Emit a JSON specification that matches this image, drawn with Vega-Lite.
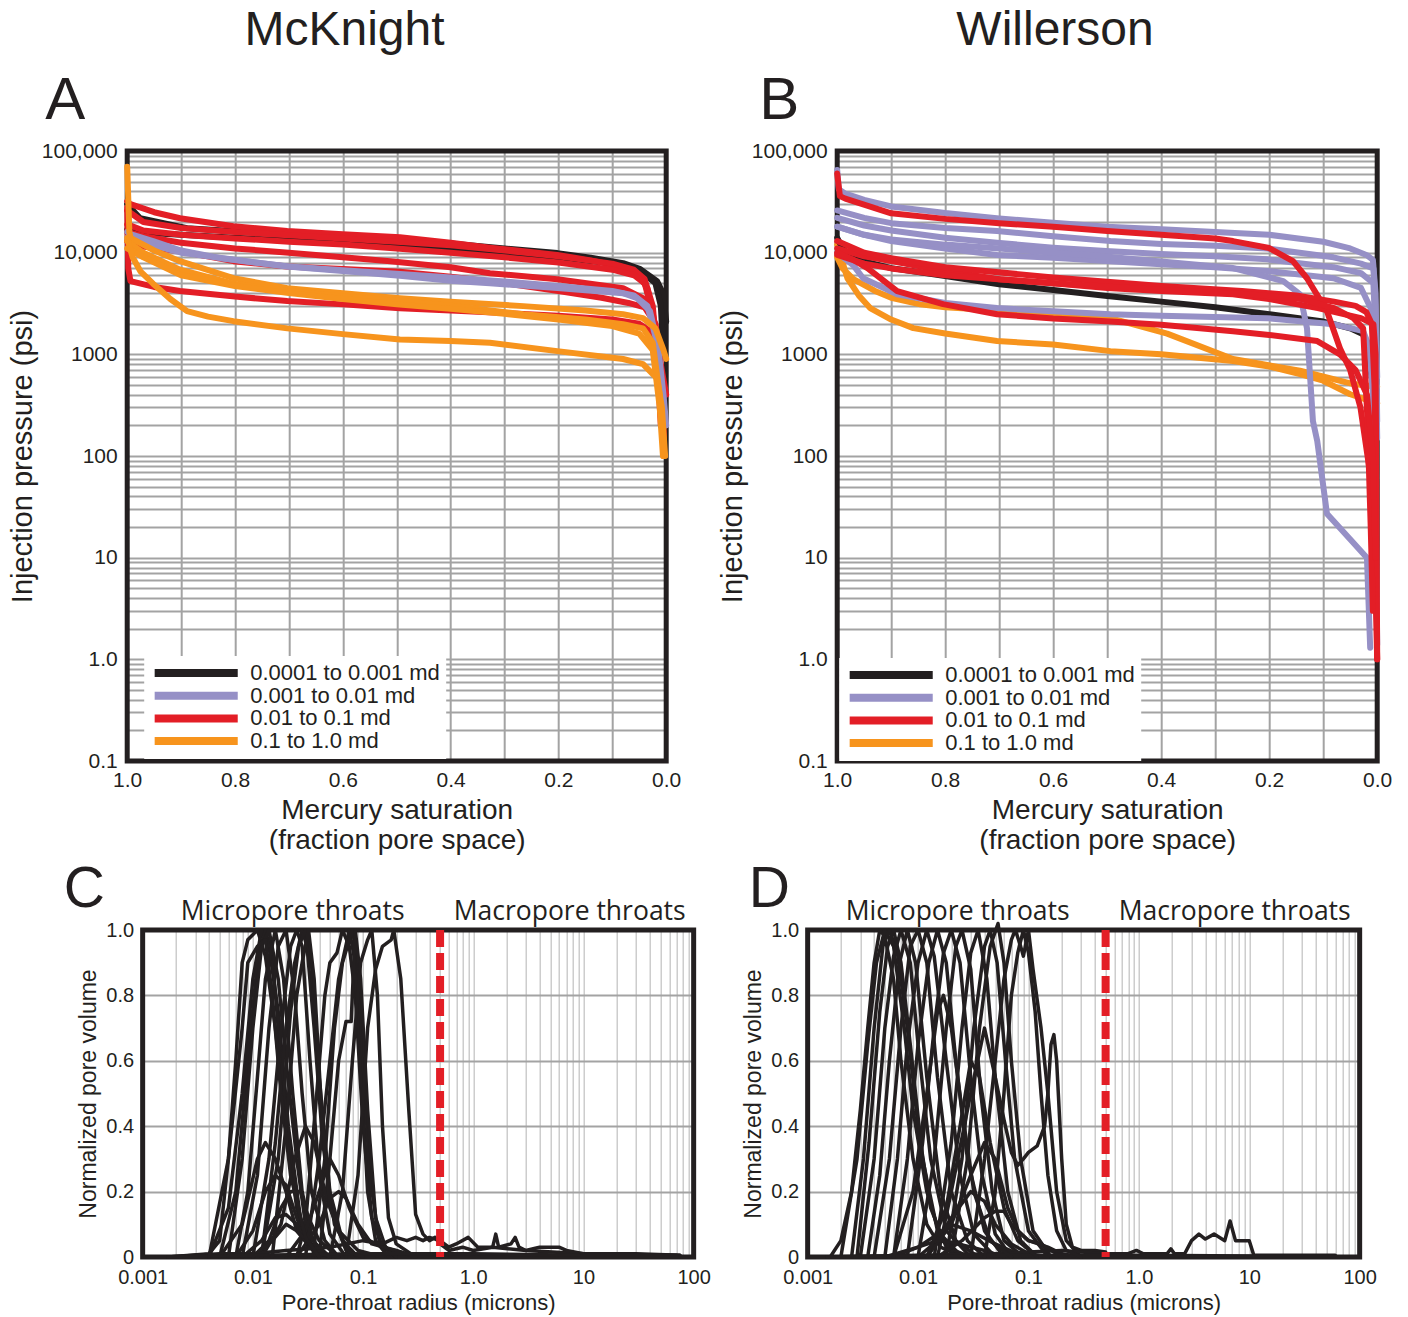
{
"$schema": "https://vega.github.io/schema/vega-lite/v6.json",
"background": "white",
"padding": {"left": 8, "top": 7, "right": 5, "bottom": 4},
"config": {
 "font": "Liberation Sans",
 "view": {"stroke": null},
 "axis": {"domain": false, "ticks": false, "tickSize": 0, "labelColor": "#231f20", "titleColor": "#231f20", "titleFontWeight": "normal", "labelFlush": false, "labelOverlap": false, "labelFont": "Liberation Sans", "titleFont": "Liberation Sans"},
 "title": {"color": "#231f20", "fontWeight": "normal", "font": "Liberation Sans"},
 "legend": {"labelFont": "Liberation Sans"}
},
"datasets": {
"A": [
{"c":"K1","k":"0.0001 to 0.001 md","s":1,"p":30000},{"c":"K1","k":"0.0001 to 0.001 md","s":0.976,"p":21800},{"c":"K1","k":"0.0001 to 0.001 md","s":0.889,"p":17400},{"c":"K1","k":"0.0001 to 0.001 md","s":0.8,"p":16200},{"c":"K1","k":"0.0001 to 0.001 md","s":0.703,"p":15200},{"c":"K1","k":"0.0001 to 0.001 md","s":0.6,"p":14300},{"c":"K1","k":"0.0001 to 0.001 md","s":0.494,"p":13400},{"c":"K1","k":"0.0001 to 0.001 md","s":0.4,"p":12300},{"c":"K1","k":"0.0001 to 0.001 md","s":0.3,"p":11000},{"c":"K1","k":"0.0001 to 0.001 md","s":0.202,"p":9900},{"c":"K1","k":"0.0001 to 0.001 md","s":0.14,"p":8900},{"c":"K1","k":"0.0001 to 0.001 md","s":0.08,"p":7890},{"c":"K1","k":"0.0001 to 0.001 md","s":0.048,"p":6890},{"c":"K1","k":"0.0001 to 0.001 md","s":0.017,"p":5250},{"c":"K1","k":"0.0001 to 0.001 md","s":0.006,"p":4000},{"c":"K1","k":"0.0001 to 0.001 md","s":0,"p":2100},
{"c":"K2","k":"0.0001 to 0.001 md","s":1,"p":17000},{"c":"K2","k":"0.0001 to 0.001 md","s":0.95,"p":15500},{"c":"K2","k":"0.0001 to 0.001 md","s":0.8,"p":14000},{"c":"K2","k":"0.0001 to 0.001 md","s":0.6,"p":12500},{"c":"K2","k":"0.0001 to 0.001 md","s":0.4,"p":11000},{"c":"K2","k":"0.0001 to 0.001 md","s":0.2,"p":9000},{"c":"K2","k":"0.0001 to 0.001 md","s":0.1,"p":7800},{"c":"K2","k":"0.0001 to 0.001 md","s":0.05,"p":6800},{"c":"K2","k":"0.0001 to 0.001 md","s":0.02,"p":5000},{"c":"K2","k":"0.0001 to 0.001 md","s":0.01,"p":3000},{"c":"K2","k":"0.0001 to 0.001 md","s":0.005,"p":1000},
{"c":"R1","k":"0.01 to 0.1 md","s":1,"p":32000},{"c":"R1","k":"0.01 to 0.1 md","s":0.994,"p":30000},{"c":"R1","k":"0.01 to 0.1 md","s":0.95,"p":25000},{"c":"R1","k":"0.01 to 0.1 md","s":0.902,"p":21800},{"c":"R1","k":"0.01 to 0.1 md","s":0.803,"p":18200},{"c":"R1","k":"0.01 to 0.1 md","s":0.703,"p":16300},{"c":"R1","k":"0.01 to 0.1 md","s":0.6,"p":15200},{"c":"R1","k":"0.01 to 0.1 md","s":0.494,"p":14200},{"c":"R1","k":"0.01 to 0.1 md","s":0.4,"p":12500},{"c":"R1","k":"0.01 to 0.1 md","s":0.327,"p":11200},{"c":"R1","k":"0.01 to 0.1 md","s":0.202,"p":9500},{"c":"R1","k":"0.01 to 0.1 md","s":0.14,"p":8400},{"c":"R1","k":"0.01 to 0.1 md","s":0.08,"p":7200},{"c":"R1","k":"0.01 to 0.1 md","s":0.054,"p":6300},{"c":"R1","k":"0.01 to 0.1 md","s":0.035,"p":4480},{"c":"R1","k":"0.01 to 0.1 md","s":0.017,"p":1580},{"c":"R1","k":"0.01 to 0.1 md","s":0.007,"p":347},{"c":"R1","k":"0.01 to 0.1 md","s":0.004,"p":150},
{"c":"R2","k":"0.01 to 0.1 md","s":1,"p":26000},{"c":"R2","k":"0.01 to 0.1 md","s":0.97,"p":20000},{"c":"R2","k":"0.01 to 0.1 md","s":0.9,"p":17500},{"c":"R2","k":"0.01 to 0.1 md","s":0.8,"p":16000},{"c":"R2","k":"0.01 to 0.1 md","s":0.7,"p":14800},{"c":"R2","k":"0.01 to 0.1 md","s":0.6,"p":13800},{"c":"R2","k":"0.01 to 0.1 md","s":0.5,"p":12800},{"c":"R2","k":"0.01 to 0.1 md","s":0.4,"p":11800},{"c":"R2","k":"0.01 to 0.1 md","s":0.3,"p":10500},{"c":"R2","k":"0.01 to 0.1 md","s":0.2,"p":9200},{"c":"R2","k":"0.01 to 0.1 md","s":0.1,"p":7800},{"c":"R2","k":"0.01 to 0.1 md","s":0.06,"p":6800},{"c":"R2","k":"0.01 to 0.1 md","s":0.04,"p":5500},{"c":"R2","k":"0.01 to 0.1 md","s":0.025,"p":3000},{"c":"R2","k":"0.01 to 0.1 md","s":0.015,"p":800},{"c":"R2","k":"0.01 to 0.1 md","s":0.009,"p":200},
{"c":"R3","k":"0.01 to 0.1 md","s":1,"p":19000},{"c":"R3","k":"0.01 to 0.1 md","s":0.97,"p":16500},{"c":"R3","k":"0.01 to 0.1 md","s":0.9,"p":15000},{"c":"R3","k":"0.01 to 0.1 md","s":0.8,"p":13800},{"c":"R3","k":"0.01 to 0.1 md","s":0.7,"p":12800},{"c":"R3","k":"0.01 to 0.1 md","s":0.6,"p":12000},{"c":"R3","k":"0.01 to 0.1 md","s":0.5,"p":11000},{"c":"R3","k":"0.01 to 0.1 md","s":0.4,"p":10000},{"c":"R3","k":"0.01 to 0.1 md","s":0.3,"p":9000},{"c":"R3","k":"0.01 to 0.1 md","s":0.2,"p":8000},{"c":"R3","k":"0.01 to 0.1 md","s":0.1,"p":6800},{"c":"R3","k":"0.01 to 0.1 md","s":0.06,"p":6000},{"c":"R3","k":"0.01 to 0.1 md","s":0.04,"p":5000},{"c":"R3","k":"0.01 to 0.1 md","s":0.025,"p":2500},{"c":"R3","k":"0.01 to 0.1 md","s":0.015,"p":600},{"c":"R3","k":"0.01 to 0.1 md","s":0.01,"p":200},
{"c":"R4","k":"0.01 to 0.1 md","s":1,"p":16000},{"c":"R4","k":"0.01 to 0.1 md","s":0.97,"p":14500},{"c":"R4","k":"0.01 to 0.1 md","s":0.9,"p":12500},{"c":"R4","k":"0.01 to 0.1 md","s":0.8,"p":11000},{"c":"R4","k":"0.01 to 0.1 md","s":0.7,"p":10000},{"c":"R4","k":"0.01 to 0.1 md","s":0.6,"p":9000},{"c":"R4","k":"0.01 to 0.1 md","s":0.512,"p":8250},{"c":"R4","k":"0.01 to 0.1 md","s":0.4,"p":7200},{"c":"R4","k":"0.01 to 0.1 md","s":0.327,"p":6280},{"c":"R4","k":"0.01 to 0.1 md","s":0.202,"p":5480},{"c":"R4","k":"0.01 to 0.1 md","s":0.08,"p":4480},{"c":"R4","k":"0.01 to 0.1 md","s":0.043,"p":3570},{"c":"R4","k":"0.01 to 0.1 md","s":0.03,"p":2800},{"c":"R4","k":"0.01 to 0.1 md","s":0.02,"p":1500},{"c":"R4","k":"0.01 to 0.1 md","s":0.012,"p":500},{"c":"R4","k":"0.01 to 0.1 md","s":0.008,"p":250},
{"c":"R5","k":"0.01 to 0.1 md","s":1,"p":13000},{"c":"R5","k":"0.01 to 0.1 md","s":0.97,"p":11500},{"c":"R5","k":"0.01 to 0.1 md","s":0.902,"p":10300},{"c":"R5","k":"0.01 to 0.1 md","s":0.803,"p":8250},{"c":"R5","k":"0.01 to 0.1 md","s":0.703,"p":7300},{"c":"R5","k":"0.01 to 0.1 md","s":0.6,"p":6900},{"c":"R5","k":"0.01 to 0.1 md","s":0.494,"p":6500},{"c":"R5","k":"0.01 to 0.1 md","s":0.4,"p":5800},{"c":"R5","k":"0.01 to 0.1 md","s":0.3,"p":5000},{"c":"R5","k":"0.01 to 0.1 md","s":0.2,"p":4200},{"c":"R5","k":"0.01 to 0.1 md","s":0.12,"p":3600},{"c":"R5","k":"0.01 to 0.1 md","s":0.07,"p":3200},{"c":"R5","k":"0.01 to 0.1 md","s":0.04,"p":2900},{"c":"R5","k":"0.01 to 0.1 md","s":0.02,"p":2000},{"c":"R5","k":"0.01 to 0.1 md","s":0.01,"p":800},{"c":"R5","k":"0.01 to 0.1 md","s":0,"p":400},
{"c":"R6","k":"0.01 to 0.1 md","s":1,"p":28000},{"c":"R6","k":"0.01 to 0.1 md","s":0.998,"p":7000},{"c":"R6","k":"0.01 to 0.1 md","s":0.994,"p":5250},{"c":"R6","k":"0.01 to 0.1 md","s":0.95,"p":4600},{"c":"R6","k":"0.01 to 0.1 md","s":0.902,"p":4200},{"c":"R6","k":"0.01 to 0.1 md","s":0.8,"p":3700},{"c":"R6","k":"0.01 to 0.1 md","s":0.703,"p":3340},{"c":"R6","k":"0.01 to 0.1 md","s":0.6,"p":3100},{"c":"R6","k":"0.01 to 0.1 md","s":0.494,"p":2840},{"c":"R6","k":"0.01 to 0.1 md","s":0.4,"p":2700},{"c":"R6","k":"0.01 to 0.1 md","s":0.3,"p":2550},{"c":"R6","k":"0.01 to 0.1 md","s":0.2,"p":2400},{"c":"R6","k":"0.01 to 0.1 md","s":0.1,"p":2200},{"c":"R6","k":"0.01 to 0.1 md","s":0.05,"p":2000},{"c":"R6","k":"0.01 to 0.1 md","s":0.03,"p":1700},{"c":"R6","k":"0.01 to 0.1 md","s":0.015,"p":800},{"c":"R6","k":"0.01 to 0.1 md","s":0.008,"p":250},{"c":"R6","k":"0.01 to 0.1 md","s":0.004,"p":120},
{"c":"L1","k":"0.001 to 0.01 md","s":1,"p":16000},{"c":"L1","k":"0.001 to 0.01 md","s":0.994,"p":15200},{"c":"L1","k":"0.001 to 0.01 md","s":0.952,"p":13000},{"c":"L1","k":"0.001 to 0.01 md","s":0.9,"p":10500},{"c":"L1","k":"0.001 to 0.01 md","s":0.827,"p":8830},{"c":"L1","k":"0.001 to 0.01 md","s":0.703,"p":7300},{"c":"L1","k":"0.001 to 0.01 md","s":0.6,"p":6600},{"c":"L1","k":"0.001 to 0.01 md","s":0.494,"p":5920},{"c":"L1","k":"0.001 to 0.01 md","s":0.4,"p":5300},{"c":"L1","k":"0.001 to 0.01 md","s":0.327,"p":5000},{"c":"L1","k":"0.001 to 0.01 md","s":0.202,"p":4500},{"c":"L1","k":"0.001 to 0.01 md","s":0.08,"p":3990},{"c":"L1","k":"0.001 to 0.01 md","s":0.054,"p":3570},{"c":"L1","k":"0.001 to 0.01 md","s":0.03,"p":2660},{"c":"L1","k":"0.001 to 0.01 md","s":0.015,"p":1200},{"c":"L1","k":"0.001 to 0.01 md","s":0.005,"p":400},{"c":"L1","k":"0.001 to 0.01 md","s":0,"p":200},
{"c":"L2","k":"0.001 to 0.01 md","s":1,"p":14000},{"c":"L2","k":"0.001 to 0.01 md","s":0.97,"p":12500},{"c":"L2","k":"0.001 to 0.01 md","s":0.9,"p":10000},{"c":"L2","k":"0.001 to 0.01 md","s":0.8,"p":8500},{"c":"L2","k":"0.001 to 0.01 md","s":0.7,"p":7300},{"c":"L2","k":"0.001 to 0.01 md","s":0.6,"p":6700},{"c":"L2","k":"0.001 to 0.01 md","s":0.5,"p":6200},{"c":"L2","k":"0.001 to 0.01 md","s":0.4,"p":5700},{"c":"L2","k":"0.001 to 0.01 md","s":0.3,"p":5200},{"c":"L2","k":"0.001 to 0.01 md","s":0.2,"p":4700},{"c":"L2","k":"0.001 to 0.01 md","s":0.1,"p":4200},{"c":"L2","k":"0.001 to 0.01 md","s":0.06,"p":3800},{"c":"L2","k":"0.001 to 0.01 md","s":0.035,"p":3000},{"c":"L2","k":"0.001 to 0.01 md","s":0.02,"p":1500},{"c":"L2","k":"0.001 to 0.01 md","s":0.01,"p":500},{"c":"L2","k":"0.001 to 0.01 md","s":0.003,"p":250},
{"c":"O1","k":"0.1 to 1.0 md","s":1,"p":70000},{"c":"O1","k":"0.1 to 1.0 md","s":0.996,"p":16000},{"c":"O1","k":"0.1 to 1.0 md","s":0.994,"p":14000},{"c":"O1","k":"0.1 to 1.0 md","s":0.95,"p":10500},{"c":"O1","k":"0.1 to 1.0 md","s":0.902,"p":8250},{"c":"O1","k":"0.1 to 1.0 md","s":0.803,"p":5620},{"c":"O1","k":"0.1 to 1.0 md","s":0.703,"p":4480},{"c":"O1","k":"0.1 to 1.0 md","s":0.6,"p":4000},{"c":"O1","k":"0.1 to 1.0 md","s":0.494,"p":3570},{"c":"O1","k":"0.1 to 1.0 md","s":0.4,"p":3300},{"c":"O1","k":"0.1 to 1.0 md","s":0.265,"p":2980},{"c":"O1","k":"0.1 to 1.0 md","s":0.15,"p":2700},{"c":"O1","k":"0.1 to 1.0 md","s":0.08,"p":2480},{"c":"O1","k":"0.1 to 1.0 md","s":0.043,"p":2270},{"c":"O1","k":"0.1 to 1.0 md","s":0.02,"p":1800},{"c":"O1","k":"0.1 to 1.0 md","s":0.005,"p":1100},{"c":"O1","k":"0.1 to 1.0 md","s":0,"p":900},
{"c":"O2","k":"0.1 to 1.0 md","s":1,"p":13000},{"c":"O2","k":"0.1 to 1.0 md","s":0.97,"p":10000},{"c":"O2","k":"0.1 to 1.0 md","s":0.902,"p":6800},{"c":"O2","k":"0.1 to 1.0 md","s":0.803,"p":4950},{"c":"O2","k":"0.1 to 1.0 md","s":0.703,"p":4200},{"c":"O2","k":"0.1 to 1.0 md","s":0.6,"p":3700},{"c":"O2","k":"0.1 to 1.0 md","s":0.494,"p":3340},{"c":"O2","k":"0.1 to 1.0 md","s":0.4,"p":3000},{"c":"O2","k":"0.1 to 1.0 md","s":0.265,"p":2480},{"c":"O2","k":"0.1 to 1.0 md","s":0.15,"p":2200},{"c":"O2","k":"0.1 to 1.0 md","s":0.08,"p":1980},{"c":"O2","k":"0.1 to 1.0 md","s":0.043,"p":1800},{"c":"O2","k":"0.1 to 1.0 md","s":0.025,"p":1300},{"c":"O2","k":"0.1 to 1.0 md","s":0.012,"p":400},{"c":"O2","k":"0.1 to 1.0 md","s":0.004,"p":120},
{"c":"O3","k":"0.1 to 1.0 md","s":1,"p":11000},{"c":"O3","k":"0.1 to 1.0 md","s":0.97,"p":9000},{"c":"O3","k":"0.1 to 1.0 md","s":0.9,"p":6000},{"c":"O3","k":"0.1 to 1.0 md","s":0.8,"p":4700},{"c":"O3","k":"0.1 to 1.0 md","s":0.7,"p":4000},{"c":"O3","k":"0.1 to 1.0 md","s":0.6,"p":3500},{"c":"O3","k":"0.1 to 1.0 md","s":0.5,"p":3100},{"c":"O3","k":"0.1 to 1.0 md","s":0.4,"p":2800},{"c":"O3","k":"0.1 to 1.0 md","s":0.3,"p":2500},{"c":"O3","k":"0.1 to 1.0 md","s":0.2,"p":2200},{"c":"O3","k":"0.1 to 1.0 md","s":0.1,"p":1900},{"c":"O3","k":"0.1 to 1.0 md","s":0.05,"p":1600},{"c":"O3","k":"0.1 to 1.0 md","s":0.025,"p":1100},{"c":"O3","k":"0.1 to 1.0 md","s":0.012,"p":300},{"c":"O3","k":"0.1 to 1.0 md","s":0.006,"p":100},
{"c":"O4","k":"0.1 to 1.0 md","s":1,"p":14000},{"c":"O4","k":"0.1 to 1.0 md","s":0.99,"p":9000},{"c":"O4","k":"0.1 to 1.0 md","s":0.975,"p":6500},{"c":"O4","k":"0.1 to 1.0 md","s":0.952,"p":4950},{"c":"O4","k":"0.1 to 1.0 md","s":0.92,"p":3500},{"c":"O4","k":"0.1 to 1.0 md","s":0.889,"p":2660},{"c":"O4","k":"0.1 to 1.0 md","s":0.85,"p":2350},{"c":"O4","k":"0.1 to 1.0 md","s":0.803,"p":2120},{"c":"O4","k":"0.1 to 1.0 md","s":0.703,"p":1800},{"c":"O4","k":"0.1 to 1.0 md","s":0.6,"p":1580},{"c":"O4","k":"0.1 to 1.0 md","s":0.494,"p":1400},{"c":"O4","k":"0.1 to 1.0 md","s":0.4,"p":1350},{"c":"O4","k":"0.1 to 1.0 md","s":0.327,"p":1300},{"c":"O4","k":"0.1 to 1.0 md","s":0.202,"p":1075},{"c":"O4","k":"0.1 to 1.0 md","s":0.08,"p":900},{"c":"O4","k":"0.1 to 1.0 md","s":0.043,"p":800},{"c":"O4","k":"0.1 to 1.0 md","s":0.017,"p":580},{"c":"O4","k":"0.1 to 1.0 md","s":0.008,"p":300},{"c":"O4","k":"0.1 to 1.0 md","s":0.002,"p":100}
],
"B": [
{"c":"OB1","k":"0.1 to 1.0 md","s":1,"p":12000},{"c":"OB1","k":"0.1 to 1.0 md","s":0.99,"p":8000},{"c":"OB1","k":"0.1 to 1.0 md","s":0.981,"p":5600},{"c":"OB1","k":"0.1 to 1.0 md","s":0.96,"p":3800},{"c":"OB1","k":"0.1 to 1.0 md","s":0.939,"p":2850},{"c":"OB1","k":"0.1 to 1.0 md","s":0.9,"p":2200},{"c":"OB1","k":"0.1 to 1.0 md","s":0.859,"p":1810},{"c":"OB1","k":"0.1 to 1.0 md","s":0.8,"p":1600},{"c":"OB1","k":"0.1 to 1.0 md","s":0.704,"p":1350},{"c":"OB1","k":"0.1 to 1.0 md","s":0.6,"p":1250},{"c":"OB1","k":"0.1 to 1.0 md","s":0.494,"p":1075},{"c":"OB1","k":"0.1 to 1.0 md","s":0.4,"p":1000},{"c":"OB1","k":"0.1 to 1.0 md","s":0.267,"p":860},{"c":"OB1","k":"0.1 to 1.0 md","s":0.2,"p":760},{"c":"OB1","k":"0.1 to 1.0 md","s":0.143,"p":640},{"c":"OB1","k":"0.1 to 1.0 md","s":0.1,"p":550},{"c":"OB1","k":"0.1 to 1.0 md","s":0.05,"p":405},{"c":"OB1","k":"0.1 to 1.0 md","s":0,"p":330},
{"c":"OB2","k":"0.1 to 1.0 md","s":1,"p":9000},{"c":"OB2","k":"0.1 to 1.0 md","s":0.99,"p":7000},{"c":"OB2","k":"0.1 to 1.0 md","s":0.97,"p":5500},{"c":"OB2","k":"0.1 to 1.0 md","s":0.93,"p":4200},{"c":"OB2","k":"0.1 to 1.0 md","s":0.9,"p":3600},{"c":"OB2","k":"0.1 to 1.0 md","s":0.846,"p":3100},{"c":"OB2","k":"0.1 to 1.0 md","s":0.8,"p":2900},{"c":"OB2","k":"0.1 to 1.0 md","s":0.7,"p":2700},{"c":"OB2","k":"0.1 to 1.0 md","s":0.6,"p":2500},{"c":"OB2","k":"0.1 to 1.0 md","s":0.494,"p":2270},{"c":"OB2","k":"0.1 to 1.0 md","s":0.389,"p":1600},{"c":"OB2","k":"0.1 to 1.0 md","s":0.267,"p":900},{"c":"OB2","k":"0.1 to 1.0 md","s":0.143,"p":690},{"c":"OB2","k":"0.1 to 1.0 md","s":0.044,"p":510},{"c":"OB2","k":"0.1 to 1.0 md","s":0,"p":480},
{"c":"KB1","k":"0.0001 to 0.001 md","s":1,"p":14000},{"c":"KB1","k":"0.0001 to 0.001 md","s":0.99,"p":11000},{"c":"KB1","k":"0.0001 to 0.001 md","s":0.97,"p":9000},{"c":"KB1","k":"0.0001 to 0.001 md","s":0.95,"p":8200},{"c":"KB1","k":"0.0001 to 0.001 md","s":0.9,"p":7050},{"c":"KB1","k":"0.0001 to 0.001 md","s":0.8,"p":5900},{"c":"KB1","k":"0.0001 to 0.001 md","s":0.7,"p":4900},{"c":"KB1","k":"0.0001 to 0.001 md","s":0.6,"p":4300},{"c":"KB1","k":"0.0001 to 0.001 md","s":0.5,"p":3750},{"c":"KB1","k":"0.0001 to 0.001 md","s":0.4,"p":3300},{"c":"KB1","k":"0.0001 to 0.001 md","s":0.3,"p":2900},{"c":"KB1","k":"0.0001 to 0.001 md","s":0.2,"p":2480},{"c":"KB1","k":"0.0001 to 0.001 md","s":0.1,"p":2100},{"c":"KB1","k":"0.0001 to 0.001 md","s":0.08,"p":1980},{"c":"KB1","k":"0.0001 to 0.001 md","s":0.05,"p":1800},{"c":"KB1","k":"0.0001 to 0.001 md","s":0.026,"p":1580},{"c":"KB1","k":"0.0001 to 0.001 md","s":0.017,"p":1000},{"c":"KB1","k":"0.0001 to 0.001 md","s":0.01,"p":600},{"c":"KB1","k":"0.0001 to 0.001 md","s":0.005,"p":400},
{"c":"LB1","k":"0.001 to 0.01 md","s":1,"p":65000},{"c":"LB1","k":"0.001 to 0.01 md","s":0.997,"p":42000},{"c":"LB1","k":"0.001 to 0.01 md","s":0.985,"p":38000},{"c":"LB1","k":"0.001 to 0.01 md","s":0.95,"p":33000},{"c":"LB1","k":"0.001 to 0.01 md","s":0.9,"p":28500},{"c":"LB1","k":"0.001 to 0.01 md","s":0.8,"p":24500},{"c":"LB1","k":"0.001 to 0.01 md","s":0.7,"p":21700},{"c":"LB1","k":"0.001 to 0.01 md","s":0.6,"p":19700},{"c":"LB1","k":"0.001 to 0.01 md","s":0.5,"p":18000},{"c":"LB1","k":"0.001 to 0.01 md","s":0.4,"p":17000},{"c":"LB1","k":"0.001 to 0.01 md","s":0.3,"p":16000},{"c":"LB1","k":"0.001 to 0.01 md","s":0.2,"p":15000},{"c":"LB1","k":"0.001 to 0.01 md","s":0.1,"p":12800},{"c":"LB1","k":"0.001 to 0.01 md","s":0.05,"p":11000},{"c":"LB1","k":"0.001 to 0.01 md","s":0.02,"p":9500},{"c":"LB1","k":"0.001 to 0.01 md","s":0.008,"p":8500},{"c":"LB1","k":"0.001 to 0.01 md","s":0.003,"p":4000},{"c":"LB1","k":"0.001 to 0.01 md","s":0,"p":220},
{"c":"LB2","k":"0.001 to 0.01 md","s":1,"p":26000},{"c":"LB2","k":"0.001 to 0.01 md","s":0.95,"p":22000},{"c":"LB2","k":"0.001 to 0.01 md","s":0.9,"p":19500},{"c":"LB2","k":"0.001 to 0.01 md","s":0.8,"p":17500},{"c":"LB2","k":"0.001 to 0.01 md","s":0.704,"p":16300},{"c":"LB2","k":"0.001 to 0.01 md","s":0.6,"p":14500},{"c":"LB2","k":"0.001 to 0.01 md","s":0.494,"p":13000},{"c":"LB2","k":"0.001 to 0.01 md","s":0.4,"p":12200},{"c":"LB2","k":"0.001 to 0.01 md","s":0.3,"p":11700},{"c":"LB2","k":"0.001 to 0.01 md","s":0.204,"p":11000},{"c":"LB2","k":"0.001 to 0.01 md","s":0.081,"p":9000},{"c":"LB2","k":"0.001 to 0.01 md","s":0.03,"p":7800},{"c":"LB2","k":"0.001 to 0.01 md","s":0.007,"p":7000},{"c":"LB2","k":"0.001 to 0.01 md","s":0.003,"p":3000},{"c":"LB2","k":"0.001 to 0.01 md","s":0,"p":600},
{"c":"LB3","k":"0.001 to 0.01 md","s":1,"p":22000},{"c":"LB3","k":"0.001 to 0.01 md","s":0.95,"p":18500},{"c":"LB3","k":"0.001 to 0.01 md","s":0.9,"p":16500},{"c":"LB3","k":"0.001 to 0.01 md","s":0.8,"p":14000},{"c":"LB3","k":"0.001 to 0.01 md","s":0.704,"p":12500},{"c":"LB3","k":"0.001 to 0.01 md","s":0.6,"p":11200},{"c":"LB3","k":"0.001 to 0.01 md","s":0.494,"p":10300},{"c":"LB3","k":"0.001 to 0.01 md","s":0.4,"p":9700},{"c":"LB3","k":"0.001 to 0.01 md","s":0.3,"p":9200},{"c":"LB3","k":"0.001 to 0.01 md","s":0.204,"p":8600},{"c":"LB3","k":"0.001 to 0.01 md","s":0.081,"p":7200},{"c":"LB3","k":"0.001 to 0.01 md","s":0.03,"p":6300},{"c":"LB3","k":"0.001 to 0.01 md","s":0.007,"p":5000},{"c":"LB3","k":"0.001 to 0.01 md","s":0.003,"p":1500},{"c":"LB3","k":"0.001 to 0.01 md","s":0,"p":150},
{"c":"LB6","k":"0.001 to 0.01 md","s":1,"p":18000},{"c":"LB6","k":"0.001 to 0.01 md","s":0.95,"p":15000},{"c":"LB6","k":"0.001 to 0.01 md","s":0.9,"p":13000},{"c":"LB6","k":"0.001 to 0.01 md","s":0.8,"p":11000},{"c":"LB6","k":"0.001 to 0.01 md","s":0.704,"p":9500},{"c":"LB6","k":"0.001 to 0.01 md","s":0.6,"p":8900},{"c":"LB6","k":"0.001 to 0.01 md","s":0.494,"p":8250},{"c":"LB6","k":"0.001 to 0.01 md","s":0.4,"p":7700},{"c":"LB6","k":"0.001 to 0.01 md","s":0.3,"p":7200},{"c":"LB6","k":"0.001 to 0.01 md","s":0.204,"p":6600},{"c":"LB6","k":"0.001 to 0.01 md","s":0.081,"p":5600},{"c":"LB6","k":"0.001 to 0.01 md","s":0.03,"p":4500},{"c":"LB6","k":"0.001 to 0.01 md","s":0.01,"p":2700},{"c":"LB6","k":"0.001 to 0.01 md","s":0.005,"p":800},{"c":"LB6","k":"0.001 to 0.01 md","s":0.002,"p":60},
{"c":"LB4","k":"0.001 to 0.01 md","s":1,"p":18000},{"c":"LB4","k":"0.001 to 0.01 md","s":0.95,"p":15000},{"c":"LB4","k":"0.001 to 0.01 md","s":0.9,"p":13500},{"c":"LB4","k":"0.001 to 0.01 md","s":0.8,"p":12000},{"c":"LB4","k":"0.001 to 0.01 md","s":0.7,"p":11000},{"c":"LB4","k":"0.001 to 0.01 md","s":0.6,"p":10000},{"c":"LB4","k":"0.001 to 0.01 md","s":0.513,"p":9250},{"c":"LB4","k":"0.001 to 0.01 md","s":0.4,"p":8200},{"c":"LB4","k":"0.001 to 0.01 md","s":0.267,"p":7050},{"c":"LB4","k":"0.001 to 0.01 md","s":0.174,"p":5250},{"c":"LB4","k":"0.001 to 0.01 md","s":0.143,"p":3900},{"c":"LB4","k":"0.001 to 0.01 md","s":0.13,"p":1800},{"c":"LB4","k":"0.001 to 0.01 md","s":0.119,"p":220},{"c":"LB4","k":"0.001 to 0.01 md","s":0.111,"p":140},{"c":"LB4","k":"0.001 to 0.01 md","s":0.093,"p":27},{"c":"LB4","k":"0.001 to 0.01 md","s":0.019,"p":10},{"c":"LB4","k":"0.001 to 0.01 md","s":0.013,"p":1.3},
{"c":"LB5","k":"0.001 to 0.01 md","s":1,"p":10000},{"c":"LB5","k":"0.001 to 0.01 md","s":0.97,"p":7500},{"c":"LB5","k":"0.001 to 0.01 md","s":0.952,"p":5600},{"c":"LB5","k":"0.001 to 0.01 md","s":0.889,"p":3900},{"c":"LB5","k":"0.001 to 0.01 md","s":0.8,"p":3200},{"c":"LB5","k":"0.001 to 0.01 md","s":0.704,"p":2850},{"c":"LB5","k":"0.001 to 0.01 md","s":0.6,"p":2650},{"c":"LB5","k":"0.001 to 0.01 md","s":0.494,"p":2480},{"c":"LB5","k":"0.001 to 0.01 md","s":0.4,"p":2400},{"c":"LB5","k":"0.001 to 0.01 md","s":0.204,"p":2270},{"c":"LB5","k":"0.001 to 0.01 md","s":0.081,"p":1980},{"c":"LB5","k":"0.001 to 0.01 md","s":0.026,"p":1690},{"c":"LB5","k":"0.001 to 0.01 md","s":0.015,"p":1200},{"c":"LB5","k":"0.001 to 0.01 md","s":0.008,"p":400},{"c":"LB5","k":"0.001 to 0.01 md","s":0.004,"p":100},{"c":"LB5","k":"0.001 to 0.01 md","s":0,"p":1.4},
{"c":"RB1","k":"0.01 to 0.1 md","s":1,"p":60000},{"c":"RB1","k":"0.01 to 0.1 md","s":0.995,"p":36000},{"c":"RB1","k":"0.01 to 0.1 md","s":0.985,"p":34000},{"c":"RB1","k":"0.01 to 0.1 md","s":0.9,"p":24400},{"c":"RB1","k":"0.01 to 0.1 md","s":0.8,"p":21500},{"c":"RB1","k":"0.01 to 0.1 md","s":0.7,"p":19500},{"c":"RB1","k":"0.01 to 0.1 md","s":0.6,"p":18000},{"c":"RB1","k":"0.01 to 0.1 md","s":0.5,"p":16300},{"c":"RB1","k":"0.01 to 0.1 md","s":0.4,"p":15000},{"c":"RB1","k":"0.01 to 0.1 md","s":0.3,"p":13800},{"c":"RB1","k":"0.01 to 0.1 md","s":0.267,"p":13000},{"c":"RB1","k":"0.01 to 0.1 md","s":0.2,"p":11100},{"c":"RB1","k":"0.01 to 0.1 md","s":0.156,"p":8240},{"c":"RB1","k":"0.01 to 0.1 md","s":0.13,"p":5600},{"c":"RB1","k":"0.01 to 0.1 md","s":0.093,"p":2660},{"c":"RB1","k":"0.01 to 0.1 md","s":0.069,"p":1150},{"c":"RB1","k":"0.01 to 0.1 md","s":0.05,"p":700},{"c":"RB1","k":"0.01 to 0.1 md","s":0.031,"p":300},{"c":"RB1","k":"0.01 to 0.1 md","s":0.013,"p":66},{"c":"RB1","k":"0.01 to 0.1 md","s":0.004,"p":7},{"c":"RB1","k":"0.01 to 0.1 md","s":0,"p":1},
{"c":"RB2","k":"0.01 to 0.1 md","s":1,"p":11000},{"c":"RB2","k":"0.01 to 0.1 md","s":0.95,"p":9200},{"c":"RB2","k":"0.01 to 0.1 md","s":0.9,"p":8250},{"c":"RB2","k":"0.01 to 0.1 md","s":0.8,"p":6600},{"c":"RB2","k":"0.01 to 0.1 md","s":0.7,"p":5480},{"c":"RB2","k":"0.01 to 0.1 md","s":0.6,"p":5000},{"c":"RB2","k":"0.01 to 0.1 md","s":0.5,"p":4480},{"c":"RB2","k":"0.01 to 0.1 md","s":0.4,"p":4200},{"c":"RB2","k":"0.01 to 0.1 md","s":0.267,"p":3900},{"c":"RB2","k":"0.01 to 0.1 md","s":0.2,"p":3500},{"c":"RB2","k":"0.01 to 0.1 md","s":0.11,"p":2850},{"c":"RB2","k":"0.01 to 0.1 md","s":0.03,"p":2270},{"c":"RB2","k":"0.01 to 0.1 md","s":0.007,"p":1980},{"c":"RB2","k":"0.01 to 0.1 md","s":0.003,"p":1000},{"c":"RB2","k":"0.01 to 0.1 md","s":0,"p":1},
{"c":"RB3","k":"0.01 to 0.1 md","s":1,"p":13000},{"c":"RB3","k":"0.01 to 0.1 md","s":0.95,"p":10000},{"c":"RB3","k":"0.01 to 0.1 md","s":0.9,"p":8800},{"c":"RB3","k":"0.01 to 0.1 md","s":0.8,"p":7200},{"c":"RB3","k":"0.01 to 0.1 md","s":0.6,"p":5700},{"c":"RB3","k":"0.01 to 0.1 md","s":0.4,"p":4700},{"c":"RB3","k":"0.01 to 0.1 md","s":0.25,"p":4200},{"c":"RB3","k":"0.01 to 0.1 md","s":0.15,"p":3800},{"c":"RB3","k":"0.01 to 0.1 md","s":0.08,"p":3300},{"c":"RB3","k":"0.01 to 0.1 md","s":0.04,"p":3000},{"c":"RB3","k":"0.01 to 0.1 md","s":0.02,"p":2600},{"c":"RB3","k":"0.01 to 0.1 md","s":0.01,"p":2000},{"c":"RB3","k":"0.01 to 0.1 md","s":0.005,"p":500},{"c":"RB3","k":"0.01 to 0.1 md","s":0.002,"p":50},
{"c":"RB4","k":"0.01 to 0.1 md","s":1,"p":9500},{"c":"RB4","k":"0.01 to 0.1 md","s":0.95,"p":7800},{"c":"RB4","k":"0.01 to 0.1 md","s":0.9,"p":7000},{"c":"RB4","k":"0.01 to 0.1 md","s":0.8,"p":6000},{"c":"RB4","k":"0.01 to 0.1 md","s":0.6,"p":5000},{"c":"RB4","k":"0.01 to 0.1 md","s":0.4,"p":4300},{"c":"RB4","k":"0.01 to 0.1 md","s":0.24,"p":3900},{"c":"RB4","k":"0.01 to 0.1 md","s":0.14,"p":3500},{"c":"RB4","k":"0.01 to 0.1 md","s":0.08,"p":2850},{"c":"RB4","k":"0.01 to 0.1 md","s":0.044,"p":2270},{"c":"RB4","k":"0.01 to 0.1 md","s":0.026,"p":1800},{"c":"RB4","k":"0.01 to 0.1 md","s":0.018,"p":220},{"c":"RB4","k":"0.01 to 0.1 md","s":0.012,"p":20},{"c":"RB4","k":"0.01 to 0.1 md","s":0.008,"p":3},
{"c":"RB5","k":"0.01 to 0.1 md","s":1,"p":10000},{"c":"RB5","k":"0.01 to 0.1 md","s":0.97,"p":8500},{"c":"RB5","k":"0.01 to 0.1 md","s":0.944,"p":7050},{"c":"RB5","k":"0.01 to 0.1 md","s":0.889,"p":4190},{"c":"RB5","k":"0.01 to 0.1 md","s":0.804,"p":3120},{"c":"RB5","k":"0.01 to 0.1 md","s":0.704,"p":2480},{"c":"RB5","k":"0.01 to 0.1 md","s":0.6,"p":2250},{"c":"RB5","k":"0.01 to 0.1 md","s":0.494,"p":2100},{"c":"RB5","k":"0.01 to 0.1 md","s":0.4,"p":1950},{"c":"RB5","k":"0.01 to 0.1 md","s":0.267,"p":1690},{"c":"RB5","k":"0.01 to 0.1 md","s":0.2,"p":1550},{"c":"RB5","k":"0.01 to 0.1 md","s":0.111,"p":1350},{"c":"RB5","k":"0.01 to 0.1 md","s":0.069,"p":1000},{"c":"RB5","k":"0.01 to 0.1 md","s":0.04,"p":700},{"c":"RB5","k":"0.01 to 0.1 md","s":0.019,"p":400},{"c":"RB5","k":"0.01 to 0.1 md","s":0.008,"p":100},{"c":"RB5","k":"0.01 to 0.1 md","s":0.003,"p":10}
],
"C": [
{"c":1,"r":0.0017,"v":0},{"c":1,"r":0.004,"v":0.01},{"c":1,"r":0.005,"v":0.05},{"c":1,"r":0.006,"v":0.3},{"c":1,"r":0.007,"v":0.6},{"c":1,"r":0.008,"v":0.9},{"c":1,"r":0.009,"v":0.97},{"c":1,"r":0.011,"v":1.0},{"c":1,"r":0.013,"v":0.92},{"c":1,"r":0.016,"v":0.7},{"c":1,"r":0.02,"v":0.4},{"c":1,"r":0.025,"v":0.15},{"c":1,"r":0.03,"v":0.05},{"c":1,"r":0.04,"v":0.01},{"c":1,"r":0.06,"v":0},
{"c":2,"r":0.004,"v":0},{"c":2,"r":0.006,"v":0.15},{"c":2,"r":0.008,"v":0.5},{"c":2,"r":0.01,"v":0.85},{"c":2,"r":0.012,"v":1.0},{"c":2,"r":0.014,"v":0.95},{"c":2,"r":0.017,"v":0.75},{"c":2,"r":0.021,"v":0.4},{"c":2,"r":0.027,"v":0.12},{"c":2,"r":0.035,"v":0.03},{"c":2,"r":0.05,"v":0},
{"c":3,"r":0.005,"v":0},{"c":3,"r":0.007,"v":0.2},{"c":3,"r":0.009,"v":0.6},{"c":3,"r":0.011,"v":0.9},{"c":3,"r":0.013,"v":1.0},{"c":3,"r":0.015,"v":0.92},{"c":3,"r":0.018,"v":0.6},{"c":3,"r":0.022,"v":0.3},{"c":3,"r":0.028,"v":0.08},{"c":3,"r":0.04,"v":0},
{"c":4,"r":0.006,"v":0},{"c":4,"r":0.008,"v":0.3},{"c":4,"r":0.01,"v":0.7},{"c":4,"r":0.012,"v":0.95},{"c":4,"r":0.014,"v":1.0},{"c":4,"r":0.017,"v":0.85},{"c":4,"r":0.02,"v":0.6},{"c":4,"r":0.025,"v":0.3},{"c":4,"r":0.03,"v":0.1},{"c":4,"r":0.04,"v":0.02},{"c":4,"r":0.05,"v":0},
{"c":5,"r":0.007,"v":0},{"c":5,"r":0.009,"v":0.2},{"c":5,"r":0.011,"v":0.55},{"c":5,"r":0.013,"v":0.85},{"c":5,"r":0.016,"v":1.0},{"c":5,"r":0.019,"v":0.85},{"c":5,"r":0.023,"v":0.5},{"c":5,"r":0.028,"v":0.2},{"c":5,"r":0.035,"v":0.05},{"c":5,"r":0.05,"v":0},
{"c":6,"r":0.008,"v":0},{"c":6,"r":0.011,"v":0.25},{"c":6,"r":0.014,"v":0.7},{"c":6,"r":0.017,"v":0.95},{"c":6,"r":0.02,"v":1.0},{"c":6,"r":0.024,"v":0.8},{"c":6,"r":0.028,"v":0.5},{"c":6,"r":0.034,"v":0.2},{"c":6,"r":0.045,"v":0.05},{"c":6,"r":0.06,"v":0},
{"c":7,"r":0.01,"v":0},{"c":7,"r":0.014,"v":0.3},{"c":7,"r":0.018,"v":0.7},{"c":7,"r":0.022,"v":0.95},{"c":7,"r":0.025,"v":1.0},{"c":7,"r":0.028,"v":0.95},{"c":7,"r":0.033,"v":0.6},{"c":7,"r":0.04,"v":0.25},{"c":7,"r":0.05,"v":0.07},{"c":7,"r":0.07,"v":0},
{"c":8,"r":0.012,"v":0},{"c":8,"r":0.016,"v":0.35},{"c":8,"r":0.02,"v":0.7},{"c":8,"r":0.024,"v":0.9},{"c":8,"r":0.028,"v":1.0},{"c":8,"r":0.031,"v":0.95},{"c":8,"r":0.036,"v":0.7},{"c":8,"r":0.043,"v":0.35},{"c":8,"r":0.055,"v":0.1},{"c":8,"r":0.08,"v":0},
{"c":9,"r":0.012,"v":0},{"c":9,"r":0.017,"v":0.3},{"c":9,"r":0.022,"v":0.75},{"c":9,"r":0.026,"v":0.95},{"c":9,"r":0.03,"v":1.0},{"c":9,"r":0.034,"v":0.9},{"c":9,"r":0.04,"v":0.55},{"c":9,"r":0.05,"v":0.2},{"c":9,"r":0.065,"v":0.05},{"c":9,"r":0.09,"v":0},
{"c":10,"r":0.025,"v":0},{"c":10,"r":0.03,"v":0.1},{"c":10,"r":0.038,"v":0.5},{"c":10,"r":0.045,"v":0.8},{"c":10,"r":0.05,"v":0.9},{"c":10,"r":0.058,"v":0.93},{"c":10,"r":0.065,"v":1.0},{"c":10,"r":0.075,"v":0.95},{"c":10,"r":0.085,"v":0.8},{"c":10,"r":0.1,"v":0.4},{"c":10,"r":0.12,"v":0.12},{"c":10,"r":0.15,"v":0.03},{"c":10,"r":0.2,"v":0},
{"c":11,"r":0.03,"v":0},{"c":11,"r":0.04,"v":0.3},{"c":11,"r":0.05,"v":0.6},{"c":11,"r":0.06,"v":0.85},{"c":11,"r":0.075,"v":1.0},{"c":11,"r":0.085,"v":0.9},{"c":11,"r":0.095,"v":0.6},{"c":11,"r":0.11,"v":0.2},{"c":11,"r":0.13,"v":0.05},{"c":11,"r":0.17,"v":0},
{"c":12,"r":0.035,"v":0},{"c":12,"r":0.045,"v":0.3},{"c":12,"r":0.055,"v":0.7},{"c":12,"r":0.065,"v":0.9},{"c":12,"r":0.08,"v":1.0},{"c":12,"r":0.09,"v":0.9},{"c":12,"r":0.1,"v":0.6},{"c":12,"r":0.115,"v":0.25},{"c":12,"r":0.14,"v":0.05},{"c":12,"r":0.2,"v":0},
{"c":13,"r":0.04,"v":0},{"c":13,"r":0.05,"v":0.3},{"c":13,"r":0.06,"v":0.6},{"c":13,"r":0.07,"v":0.72},{"c":13,"r":0.078,"v":0.72},{"c":13,"r":0.085,"v":1.0},{"c":13,"r":0.095,"v":0.85},{"c":13,"r":0.11,"v":0.45},{"c":13,"r":0.13,"v":0.12},{"c":13,"r":0.16,"v":0.03},{"c":13,"r":0.2,"v":0},
{"c":14,"r":0.05,"v":0},{"c":14,"r":0.065,"v":0.2},{"c":14,"r":0.08,"v":0.6},{"c":14,"r":0.095,"v":0.9},{"c":14,"r":0.11,"v":0.97},{"c":14,"r":0.12,"v":1.0},{"c":14,"r":0.135,"v":0.8},{"c":14,"r":0.15,"v":0.4},{"c":14,"r":0.17,"v":0.12},{"c":14,"r":0.2,"v":0.04},{"c":14,"r":0.3,"v":0},
{"c":15,"r":0.07,"v":0},{"c":15,"r":0.09,"v":0.25},{"c":15,"r":0.11,"v":0.7},{"c":15,"r":0.13,"v":0.88},{"c":15,"r":0.15,"v":0.95},{"c":15,"r":0.18,"v":0.97},{"c":15,"r":0.19,"v":1.0},{"c":15,"r":0.22,"v":0.85},{"c":15,"r":0.26,"v":0.45},{"c":15,"r":0.3,"v":0.13},{"c":15,"r":0.35,"v":0.07},{"c":15,"r":0.4,"v":0.05},{"c":15,"r":0.45,"v":0.06},{"c":15,"r":0.5,"v":0.04},{"c":15,"r":0.6,"v":0.02},{"c":15,"r":0.8,"v":0.03},{"c":15,"r":1,"v":0.02},{"c":15,"r":1.5,"v":0.03},{"c":15,"r":3,"v":0.02},{"c":15,"r":10,"v":0.01},{"c":15,"r":70,"v":0.005},
{"c":16,"r":0.005,"v":0},{"c":16,"r":0.008,"v":0.1},{"c":16,"r":0.011,"v":0.3},{"c":16,"r":0.013,"v":0.35},{"c":16,"r":0.016,"v":0.3},{"c":16,"r":0.02,"v":0.2},{"c":16,"r":0.025,"v":0.08},{"c":16,"r":0.035,"v":0.02},{"c":16,"r":0.05,"v":0},
{"c":17,"r":0.007,"v":0},{"c":17,"r":0.01,"v":0.08},{"c":17,"r":0.013,"v":0.2},{"c":17,"r":0.016,"v":0.25},{"c":17,"r":0.02,"v":0.22},{"c":17,"r":0.025,"v":0.12},{"c":17,"r":0.03,"v":0.05},{"c":17,"r":0.04,"v":0},
{"c":18,"r":0.01,"v":0},{"c":18,"r":0.014,"v":0.05},{"c":18,"r":0.018,"v":0.15},{"c":18,"r":0.022,"v":0.2},{"c":18,"r":0.027,"v":0.2},{"c":18,"r":0.032,"v":0.12},{"c":18,"r":0.04,"v":0.05},{"c":18,"r":0.06,"v":0},
{"c":19,"r":0.008,"v":0},{"c":19,"r":0.012,"v":0.05},{"c":19,"r":0.016,"v":0.12},{"c":19,"r":0.02,"v":0.13},{"c":19,"r":0.025,"v":0.1},{"c":19,"r":0.03,"v":0.05},{"c":19,"r":0.04,"v":0.01},{"c":19,"r":0.06,"v":0},
{"c":20,"r":0.02,"v":0},{"c":20,"r":0.03,"v":0.08},{"c":20,"r":0.04,"v":0.2},{"c":20,"r":0.05,"v":0.3},{"c":20,"r":0.06,"v":0.25},{"c":20,"r":0.075,"v":0.15},{"c":20,"r":0.1,"v":0.06},{"c":20,"r":0.15,"v":0.03},{"c":20,"r":0.25,"v":0.01},{"c":20,"r":0.4,"v":0},
{"c":21,"r":0.025,"v":0},{"c":21,"r":0.04,"v":0.1},{"c":21,"r":0.05,"v":0.18},{"c":21,"r":0.06,"v":0.2},{"c":21,"r":0.07,"v":0.18},{"c":21,"r":0.09,"v":0.1},{"c":21,"r":0.12,"v":0.04},{"c":21,"r":0.2,"v":0.02},{"c":21,"r":0.3,"v":0},
{"c":22,"r":0.01,"v":0},{"c":22,"r":0.015,"v":0.05},{"c":22,"r":0.02,"v":0.1},{"c":22,"r":0.025,"v":0.08},{"c":22,"r":0.035,"v":0.03},{"c":22,"r":0.05,"v":0},
{"c":23,"r":0.012,"v":0},{"c":23,"r":0.018,"v":0.1},{"c":23,"r":0.024,"v":0.3},{"c":23,"r":0.03,"v":0.4},{"c":23,"r":0.036,"v":0.35},{"c":23,"r":0.045,"v":0.2},{"c":23,"r":0.06,"v":0.08},{"c":23,"r":0.09,"v":0.02},{"c":23,"r":0.15,"v":0},
{"c":24,"r":0.0017,"v":0},{"c":24,"r":0.003,"v":0.005},{"c":24,"r":0.005,"v":0.01},{"c":24,"r":0.01,"v":0.01},{"c":24,"r":0.02,"v":0.02},{"c":24,"r":0.05,"v":0.03},{"c":24,"r":0.1,"v":0.05},{"c":24,"r":0.15,"v":0.04},{"c":24,"r":0.2,"v":0.06},{"c":24,"r":0.25,"v":0.05},{"c":24,"r":0.3,"v":0.06},{"c":24,"r":0.35,"v":0.05},{"c":24,"r":0.4,"v":0.06},{"c":24,"r":0.5,"v":0.05},{"c":24,"r":0.6,"v":0.03},{"c":24,"r":0.7,"v":0.04},{"c":24,"r":0.9,"v":0.06},{"c":24,"r":1.1,"v":0.03},{"c":24,"r":1.5,"v":0.03},{"c":24,"r":1.6,"v":0.07},{"c":24,"r":1.7,"v":0.03},{"c":24,"r":2.2,"v":0.04},{"c":24,"r":2.4,"v":0.06},{"c":24,"r":2.6,"v":0.03},{"c":24,"r":3,"v":0.02},{"c":24,"r":4,"v":0.03},{"c":24,"r":6,"v":0.03},{"c":24,"r":7,"v":0.02},{"c":24,"r":10,"v":0.01},{"c":24,"r":30,"v":0.01},{"c":24,"r":75,"v":0.005},
{"c":25,"r":0.0017,"v":0},{"c":25,"r":0.01,"v":0.005},{"c":25,"r":0.1,"v":0.01},{"c":25,"r":1,"v":0.01},{"c":25,"r":10,"v":0.005},{"c":25,"r":75,"v":0.005},
{"c":26,"r":0.004,"v":0},{"c":26,"r":0.006,"v":0.3},{"c":26,"r":0.008,"v":0.7},{"c":26,"r":0.009,"v":0.9},{"c":26,"r":0.011,"v":0.95},{"c":26,"r":0.013,"v":0.97},{"c":26,"r":0.015,"v":0.8},{"c":26,"r":0.018,"v":0.5},{"c":26,"r":0.022,"v":0.25},{"c":26,"r":0.03,"v":0.06},{"c":26,"r":0.04,"v":0},
{"c":27,"r":0.015,"v":0},{"c":27,"r":0.02,"v":0.4},{"c":27,"r":0.025,"v":0.8},{"c":27,"r":0.028,"v":0.9},{"c":27,"r":0.032,"v":1.0},{"c":27,"r":0.036,"v":0.85},{"c":27,"r":0.042,"v":0.45},{"c":27,"r":0.05,"v":0.15},{"c":27,"r":0.07,"v":0.02},{"c":27,"r":0.1,"v":0}
],
"D": [
{"c":1,"r":0.0016,"v":0},{"c":1,"r":0.002,"v":0.05},{"c":1,"r":0.0025,"v":0.2},{"c":1,"r":0.003,"v":0.45},{"c":1,"r":0.0035,"v":0.7},{"c":1,"r":0.004,"v":0.9},{"c":1,"r":0.0045,"v":1.0},{"c":1,"r":0.005,"v":0.98},{"c":1,"r":0.006,"v":0.85},{"c":1,"r":0.007,"v":0.6},{"c":1,"r":0.009,"v":0.3},{"c":1,"r":0.012,"v":0.1},{"c":1,"r":0.016,"v":0.03},{"c":1,"r":0.025,"v":0},
{"c":2,"r":0.002,"v":0},{"c":2,"r":0.0028,"v":0.3},{"c":2,"r":0.0035,"v":0.65},{"c":2,"r":0.0042,"v":0.9},{"c":2,"r":0.005,"v":1.0},{"c":2,"r":0.006,"v":0.95},{"c":2,"r":0.0075,"v":0.7},{"c":2,"r":0.009,"v":0.45},{"c":2,"r":0.012,"v":0.2},{"c":2,"r":0.016,"v":0.06},{"c":2,"r":0.025,"v":0},
{"c":3,"r":0.0025,"v":0},{"c":3,"r":0.0032,"v":0.3},{"c":3,"r":0.004,"v":0.7},{"c":3,"r":0.0048,"v":0.95},{"c":3,"r":0.0055,"v":1.0},{"c":3,"r":0.0065,"v":0.93},{"c":3,"r":0.008,"v":0.7},{"c":3,"r":0.01,"v":0.4},{"c":3,"r":0.013,"v":0.15},{"c":3,"r":0.018,"v":0.03},{"c":3,"r":0.03,"v":0},
{"c":4,"r":0.0028,"v":0},{"c":4,"r":0.0036,"v":0.35},{"c":4,"r":0.0045,"v":0.75},{"c":4,"r":0.0053,"v":0.95},{"c":4,"r":0.006,"v":1.0},{"c":4,"r":0.007,"v":0.9},{"c":4,"r":0.0085,"v":0.65},{"c":4,"r":0.011,"v":0.3},{"c":4,"r":0.015,"v":0.08},{"c":4,"r":0.025,"v":0},
{"c":5,"r":0.003,"v":0},{"c":5,"r":0.004,"v":0.3},{"c":5,"r":0.005,"v":0.7},{"c":5,"r":0.006,"v":0.92},{"c":5,"r":0.007,"v":1.0},{"c":5,"r":0.0085,"v":0.9},{"c":5,"r":0.01,"v":0.65},{"c":5,"r":0.013,"v":0.3},{"c":5,"r":0.018,"v":0.08},{"c":5,"r":0.03,"v":0},
{"c":6,"r":0.0035,"v":0},{"c":6,"r":0.0045,"v":0.25},{"c":6,"r":0.0055,"v":0.6},{"c":6,"r":0.0068,"v":0.9},{"c":6,"r":0.008,"v":1.0},{"c":6,"r":0.0095,"v":0.9},{"c":6,"r":0.012,"v":0.55},{"c":6,"r":0.016,"v":0.2},{"c":6,"r":0.022,"v":0.05},{"c":6,"r":0.035,"v":0},
{"c":7,"r":0.004,"v":0},{"c":7,"r":0.0055,"v":0.3},{"c":7,"r":0.007,"v":0.7},{"c":7,"r":0.0085,"v":0.95},{"c":7,"r":0.01,"v":1.0},{"c":7,"r":0.012,"v":0.9},{"c":7,"r":0.015,"v":0.55},{"c":7,"r":0.02,"v":0.2},{"c":7,"r":0.028,"v":0.05},{"c":7,"r":0.04,"v":0},
{"c":8,"r":0.005,"v":0},{"c":8,"r":0.0065,"v":0.3},{"c":8,"r":0.008,"v":0.65},{"c":8,"r":0.01,"v":0.9},{"c":8,"r":0.012,"v":1.0},{"c":8,"r":0.014,"v":0.92},{"c":8,"r":0.018,"v":0.6},{"c":8,"r":0.024,"v":0.25},{"c":8,"r":0.032,"v":0.07},{"c":8,"r":0.05,"v":0},
{"c":9,"r":0.006,"v":0},{"c":9,"r":0.008,"v":0.3},{"c":9,"r":0.01,"v":0.65},{"c":9,"r":0.0125,"v":0.9},{"c":9,"r":0.015,"v":1.0},{"c":9,"r":0.018,"v":0.9},{"c":9,"r":0.022,"v":0.6},{"c":9,"r":0.028,"v":0.3},{"c":9,"r":0.04,"v":0.08},{"c":9,"r":0.06,"v":0},
{"c":10,"r":0.008,"v":0},{"c":10,"r":0.011,"v":0.35},{"c":10,"r":0.014,"v":0.7},{"c":10,"r":0.017,"v":0.93},{"c":10,"r":0.02,"v":1.0},{"c":10,"r":0.024,"v":0.9},{"c":10,"r":0.03,"v":0.55},{"c":10,"r":0.038,"v":0.25},{"c":10,"r":0.05,"v":0.07},{"c":10,"r":0.07,"v":0},
{"c":11,"r":0.01,"v":0},{"c":11,"r":0.014,"v":0.3},{"c":11,"r":0.018,"v":0.7},{"c":11,"r":0.022,"v":0.95},{"c":11,"r":0.025,"v":1.0},{"c":11,"r":0.03,"v":0.88},{"c":11,"r":0.037,"v":0.5},{"c":11,"r":0.047,"v":0.2},{"c":11,"r":0.06,"v":0.05},{"c":11,"r":0.09,"v":0},
{"c":12,"r":0.014,"v":0},{"c":12,"r":0.02,"v":0.35},{"c":12,"r":0.025,"v":0.7},{"c":12,"r":0.03,"v":0.93},{"c":12,"r":0.035,"v":1.0},{"c":12,"r":0.042,"v":0.85},{"c":12,"r":0.05,"v":0.55},{"c":12,"r":0.065,"v":0.2},{"c":12,"r":0.085,"v":0.05},{"c":12,"r":0.12,"v":0},
{"c":13,"r":0.018,"v":0},{"c":13,"r":0.025,"v":0.3},{"c":13,"r":0.032,"v":0.7},{"c":13,"r":0.04,"v":0.95},{"c":13,"r":0.045,"v":1.0},{"c":13,"r":0.052,"v":0.9},{"c":13,"r":0.062,"v":0.6},{"c":13,"r":0.075,"v":0.3},{"c":13,"r":0.1,"v":0.08},{"c":13,"r":0.15,"v":0},
{"c":14,"r":0.02,"v":0},{"c":14,"r":0.028,"v":0.3},{"c":14,"r":0.036,"v":0.7},{"c":14,"r":0.045,"v":0.95},{"c":14,"r":0.053,"v":1.02},{"c":14,"r":0.06,"v":0.9},{"c":14,"r":0.07,"v":0.6},{"c":14,"r":0.085,"v":0.3},{"c":14,"r":0.11,"v":0.08},{"c":14,"r":0.16,"v":0},
{"c":15,"r":0.03,"v":0},{"c":15,"r":0.04,"v":0.3},{"c":15,"r":0.05,"v":0.6},{"c":15,"r":0.06,"v":0.85},{"c":15,"r":0.07,"v":0.97},{"c":15,"r":0.076,"v":1.0},{"c":15,"r":0.085,"v":0.95},{"c":15,"r":0.09,"v":0.92},{"c":15,"r":0.1,"v":1.0},{"c":15,"r":0.11,"v":0.88},{"c":15,"r":0.13,"v":0.7},{"c":15,"r":0.15,"v":0.5},{"c":15,"r":0.18,"v":0.2},{"c":15,"r":0.22,"v":0.05},{"c":15,"r":0.3,"v":0},
{"c":16,"r":0.015,"v":0},{"c":16,"r":0.02,"v":0.2},{"c":16,"r":0.03,"v":0.5},{"c":16,"r":0.04,"v":0.7},{"c":16,"r":0.05,"v":0.55},{"c":16,"r":0.06,"v":0.42},{"c":16,"r":0.07,"v":0.32},{"c":16,"r":0.08,"v":0.28},{"c":16,"r":0.09,"v":0.3},{"c":16,"r":0.1,"v":0.32},{"c":16,"r":0.12,"v":0.34},{"c":16,"r":0.14,"v":0.4},{"c":16,"r":0.15,"v":0.5},{"c":16,"r":0.16,"v":0.65},{"c":16,"r":0.17,"v":0.68},{"c":16,"r":0.18,"v":0.6},{"c":16,"r":0.2,"v":0.3},{"c":16,"r":0.22,"v":0.1},{"c":16,"r":0.25,"v":0.03},{"c":16,"r":0.3,"v":0.02},{"c":16,"r":0.4,"v":0.02},{"c":16,"r":0.5,"v":0.015},
{"c":17,"r":0.01,"v":0},{"c":17,"r":0.015,"v":0.05},{"c":17,"r":0.02,"v":0.12},{"c":17,"r":0.03,"v":0.2},{"c":17,"r":0.04,"v":0.17},{"c":17,"r":0.05,"v":0.1},{"c":17,"r":0.07,"v":0.04},{"c":17,"r":0.1,"v":0.01},{"c":17,"r":0.15,"v":0},
{"c":18,"r":0.015,"v":0},{"c":18,"r":0.025,"v":0.05},{"c":18,"r":0.04,"v":0.12},{"c":18,"r":0.05,"v":0.14},{"c":18,"r":0.06,"v":0.14},{"c":18,"r":0.07,"v":0.1},{"c":18,"r":0.1,"v":0.05},{"c":18,"r":0.15,"v":0.03},{"c":18,"r":0.2,"v":0.01},{"c":18,"r":0.3,"v":0},
{"c":19,"r":0.012,"v":0},{"c":19,"r":0.02,"v":0.1},{"c":19,"r":0.03,"v":0.25},{"c":19,"r":0.04,"v":0.35},{"c":19,"r":0.05,"v":0.3},{"c":19,"r":0.065,"v":0.15},{"c":19,"r":0.08,"v":0.08},{"c":19,"r":0.1,"v":0.05},{"c":19,"r":0.13,"v":0.04},{"c":19,"r":0.2,"v":0},
{"c":20,"r":0.005,"v":0},{"c":20,"r":0.01,"v":0.03},{"c":20,"r":0.015,"v":0.07},{"c":20,"r":0.02,"v":0.1},{"c":20,"r":0.03,"v":0.08},{"c":20,"r":0.05,"v":0.04},{"c":20,"r":0.08,"v":0.01},{"c":20,"r":0.12,"v":0},
{"c":21,"r":0.006,"v":0},{"c":21,"r":0.01,"v":0.03},{"c":21,"r":0.015,"v":0.05},{"c":21,"r":0.02,"v":0.045},{"c":21,"r":0.04,"v":0.02},{"c":21,"r":0.06,"v":0},
{"c":22,"r":0.0015,"v":0},{"c":22,"r":0.003,"v":0.002},{"c":22,"r":0.01,"v":0.005},{"c":22,"r":0.05,"v":0.01},{"c":22,"r":0.1,"v":0.015},{"c":22,"r":0.2,"v":0.02},{"c":22,"r":0.3,"v":0.015},{"c":22,"r":0.5,"v":0.01},{"c":22,"r":0.8,"v":0.01},{"c":22,"r":0.95,"v":0.02},{"c":22,"r":1.1,"v":0.01},{"c":22,"r":1.8,"v":0.01},{"c":22,"r":1.95,"v":0.025},{"c":22,"r":2.1,"v":0.01},{"c":22,"r":2.6,"v":0.01},{"c":22,"r":3,"v":0.05},{"c":22,"r":3.5,"v":0.07},{"c":22,"r":4,"v":0.055},{"c":22,"r":4.8,"v":0.07},{"c":22,"r":6,"v":0.05},{"c":22,"r":6.7,"v":0.11},{"c":22,"r":7.5,"v":0.05},{"c":22,"r":10,"v":0.05},{"c":22,"r":11,"v":0.005},{"c":22,"r":20,"v":0.005},{"c":22,"r":60,"v":0.005},
{"c":23,"r":0.0015,"v":0},{"c":23,"r":0.01,"v":0.003},{"c":23,"r":0.1,"v":0.005},{"c":23,"r":1,"v":0.005},{"c":23,"r":10,"v":0.003},{"c":23,"r":60,"v":0.003},
{"c":24,"r":0.012,"v":0},{"c":24,"r":0.018,"v":0.15},{"c":24,"r":0.024,"v":0.4},{"c":24,"r":0.03,"v":0.6},{"c":24,"r":0.036,"v":0.55},{"c":24,"r":0.045,"v":0.35},{"c":24,"r":0.06,"v":0.15},{"c":24,"r":0.08,"v":0.05},{"c":24,"r":0.12,"v":0},
{"c":25,"r":0.006,"v":0},{"c":25,"r":0.009,"v":0.2},{"c":25,"r":0.012,"v":0.5},{"c":25,"r":0.015,"v":0.75},{"c":25,"r":0.017,"v":0.8},{"c":25,"r":0.02,"v":0.7},{"c":25,"r":0.025,"v":0.45},{"c":25,"r":0.032,"v":0.2},{"c":25,"r":0.045,"v":0.05},{"c":25,"r":0.07,"v":0},
{"c":26,"r":0.04,"v":0},{"c":26,"r":0.05,"v":0.2},{"c":26,"r":0.06,"v":0.5},{"c":26,"r":0.07,"v":0.8},{"c":26,"r":0.08,"v":0.93},{"c":26,"r":0.09,"v":1.0},{"c":26,"r":0.1,"v":0.93},{"c":26,"r":0.115,"v":0.75},{"c":26,"r":0.13,"v":0.5},{"c":26,"r":0.15,"v":0.25},{"c":26,"r":0.18,"v":0.08},{"c":26,"r":0.22,"v":0.02},{"c":26,"r":0.3,"v":0}
]
},
"resolve": {"scale": {"color": "independent"}, "legend": {"color": "independent"}},
"spacing": 7,
"center": true,
"vconcat": [
{
 "hconcat": [
  {
   "width": 539, "height": 610,
   "title": {"text": "McKnight", "fontSize": 48, "offset": 16, "anchor": "middle", "frame": "bounds"},
   "layer": [
    {"data": {"values": [{}]}, "mark": {"type": "rect", "fill": null, "stroke": "#231f20", "strokeWidth": 5},
     "encoding": {"x": {"datum": 1, "type": "quantitative", "scale": {"domain": [0, 1], "reverse": true, "nice": false, "zero": false}}, "x2": {"datum": 0}, "y": {"datum": 0.1, "type": "quantitative", "scale": {"type": "log", "domain": [0.1, 100000], "nice": false}}, "y2": {"datum": 100000}}},
    {"data": {"name": "A"}, "mark": {"type": "line", "strokeWidth": 6, "strokeJoin": "round", "strokeCap": "round"},
     "encoding": {
      "x": {"field": "s", "type": "quantitative", "scale": {"domain": [0, 1], "reverse": true, "nice": false, "zero": false},
            "axis": {"values": [0, 0.1, 0.2, 0.3, 0.4, 0.5, 0.6, 0.7, 0.8, 0.9, 1], "labelExpr": "datum.value == 1 ? '1.0' : datum.value == 0.8 ? '0.8' : datum.value == 0.6 ? '0.6' : datum.value == 0.4 ? '0.4' : datum.value == 0.2 ? '0.2' : datum.value == 0 ? '0.0' : ''", "title": ["Mercury saturation", "(fraction pore space)"], "titleFontSize": 28, "titleLineHeight": 30, "titlePadding": 6, "labelFontSize": 21, "labelPadding": 8, "grid": true, "gridColor": "#a3a3a3", "gridWidth": 2}},
      "y": {"field": "p", "type": "quantitative", "scale": {"type": "log", "domain": [0.1, 100000], "nice": false},
            "axis": {"values": [0.1,0.2,0.3,0.4,0.5,0.6,0.7,0.8,0.9,1,2,3,4,5,6,7,8,9,10,20,30,40,50,60,70,80,90,100,200,300,400,500,600,700,800,900,1000,2000,3000,4000,5000,6000,7000,8000,9000,10000,20000,30000,40000,50000,60000,70000,80000,90000,100000], "labelExpr": "datum.value == 0.1 ? '0.1' : datum.value == 1 ? '1.0' : datum.value == 10 ? '10' : datum.value == 100 ? '100' : datum.value == 1000 ? '1000' : datum.value == 10000 ? '10,000' : datum.value == 100000 ? '100,000' : ''", "title": "Injection pressure (psi)", "titleFontSize": 29, "titlePadding": 4, "labelFontSize": 21, "labelPadding": 10, "grid": true, "gridColor": "#a3a3a3", "gridWidth": 2}},
      "color": {"field": "k", "type": "nominal", "scale": {"domain": ["0.0001 to 0.001 md", "0.001 to 0.01 md", "0.01 to 0.1 md", "0.1 to 1.0 md"], "range": ["#231f20", "#9690c6", "#e31e26", "#f7941d"]},
                "legend": {"orient": "none", "legendX": 17, "legendY": 505, "title": null, "symbolType": "stroke", "symbolStrokeWidth": 8, "symbolSize": 6900, "clipHeight": 22, "rowPadding": 0.7, "labelFontSize": 22, "labelColor": "#231f20", "labelLimit": 400, "labelOffset": 8, "fillColor": "white", "padding": 6, "symbolOpacity": 1}},
      "detail": {"field": "c"}
     }},
    {"data": {"values": [{}]}, "mark": {"type": "text", "text": "A", "fontSize": 60, "align": "left", "baseline": "alphabetic", "color": "#231f20"},
     "encoding": {"x": {"datum": 1.1521, "type": "quantitative"}, "y": {"datum": 205400, "type": "quantitative"}}}
   ]
  },
  {
   "width": 540, "height": 610,
   "title": {"text": "Willerson", "fontSize": 48, "offset": 16, "anchor": "middle", "frame": "bounds"},
   "layer": [
    {"data": {"values": [{}]}, "mark": {"type": "rect", "fill": null, "stroke": "#231f20", "strokeWidth": 5},
     "encoding": {"x": {"datum": 1, "type": "quantitative", "scale": {"domain": [0, 1], "reverse": true, "nice": false, "zero": false}}, "x2": {"datum": 0}, "y": {"datum": 0.1, "type": "quantitative", "scale": {"type": "log", "domain": [0.1, 100000], "nice": false}}, "y2": {"datum": 100000}}},
    {"data": {"name": "B"}, "mark": {"type": "line", "strokeWidth": 6, "strokeJoin": "round", "strokeCap": "round"},
     "encoding": {
      "x": {"field": "s", "type": "quantitative", "scale": {"domain": [0, 1], "reverse": true, "nice": false, "zero": false},
            "axis": {"values": [0, 0.1, 0.2, 0.3, 0.4, 0.5, 0.6, 0.7, 0.8, 0.9, 1], "labelExpr": "datum.value == 1 ? '1.0' : datum.value == 0.8 ? '0.8' : datum.value == 0.6 ? '0.6' : datum.value == 0.4 ? '0.4' : datum.value == 0.2 ? '0.2' : datum.value == 0 ? '0.0' : ''", "title": ["Mercury saturation", "(fraction pore space)"], "titleFontSize": 28, "titleLineHeight": 30, "titlePadding": 6, "labelFontSize": 21, "labelPadding": 8, "grid": true, "gridColor": "#a3a3a3", "gridWidth": 2}},
      "y": {"field": "p", "type": "quantitative", "scale": {"type": "log", "domain": [0.1, 100000], "nice": false},
            "axis": {"values": [0.1,0.2,0.3,0.4,0.5,0.6,0.7,0.8,0.9,1,2,3,4,5,6,7,8,9,10,20,30,40,50,60,70,80,90,100,200,300,400,500,600,700,800,900,1000,2000,3000,4000,5000,6000,7000,8000,9000,10000,20000,30000,40000,50000,60000,70000,80000,90000,100000], "labelExpr": "datum.value == 0.1 ? '0.1' : datum.value == 1 ? '1.0' : datum.value == 10 ? '10' : datum.value == 100 ? '100' : datum.value == 1000 ? '1000' : datum.value == 10000 ? '10,000' : datum.value == 100000 ? '100,000' : ''", "title": "Injection pressure (psi)", "titleFontSize": 29, "titlePadding": 4, "labelFontSize": 21, "labelPadding": 10, "grid": true, "gridColor": "#a3a3a3", "gridWidth": 2}},
      "color": {"field": "k", "type": "nominal", "scale": {"domain": ["0.0001 to 0.001 md", "0.001 to 0.01 md", "0.01 to 0.1 md", "0.1 to 1.0 md"], "range": ["#231f20", "#9690c6", "#e31e26", "#f7941d"]},
                "legend": {"orient": "none", "legendX": 2, "legendY": 507, "title": null, "symbolType": "stroke", "symbolStrokeWidth": 8, "symbolSize": 6900, "clipHeight": 22, "rowPadding": 0.7, "labelFontSize": 22, "labelColor": "#231f20", "labelLimit": 400, "labelOffset": 8, "fillColor": "white", "padding": 6, "symbolOpacity": 1}},
      "detail": {"field": "c"}
     }},
    {"data": {"values": [{}]}, "mark": {"type": "text", "text": "B", "fontSize": 60, "align": "left", "baseline": "alphabetic", "color": "#231f20"},
     "encoding": {"x": {"datum": 1.1444, "type": "quantitative"}, "y": {"datum": 205400, "type": "quantitative"}}}
   ]
  }
 ],
 "spacing": 171,
 "bounds": "flush",
 "resolve": {"scale": {"color": "independent"}, "legend": {"color": "independent"}}
},
{
 "hconcat": [
  {
   "width": 551, "height": 327,
   "layer": [
    {"data": {"values": [{}]}, "mark": {"type": "rect", "fill": null, "stroke": "#231f20", "strokeWidth": 5},
     "encoding": {"x": {"datum": 0.001, "type": "quantitative", "scale": {"type": "log", "domain": [0.001, 100], "nice": false}}, "x2": {"datum": 100}, "y": {"datum": 0, "type": "quantitative", "scale": {"domain": [0, 1], "nice": false}}, "y2": {"datum": 1}}},
    {"data": {"name": "C"}, "mark": {"type": "line", "color": "#231f20", "strokeWidth": 3.5, "strokeJoin": "round", "strokeCap": "round"},
     "encoding": {
      "x": {"field": "r", "type": "quantitative", "scale": {"type": "log", "domain": [0.001, 100], "nice": false},
            "axis": {"values": [0.001,0.002,0.003,0.004,0.005,0.006,0.007,0.008,0.009,0.01,0.02,0.03,0.04,0.05,0.06,0.07,0.08,0.09,0.1,0.2,0.3,0.4,0.5,0.6,0.7,0.8,0.9,1,2,3,4,5,6,7,8,9,10,20,30,40,50,60,70,80,90,100], "labelExpr": "datum.value == 0.001 ? '0.001' : datum.value == 0.01 ? '0.01' : datum.value == 0.1 ? '0.1' : datum.value == 1 ? '1.0' : datum.value == 10 ? '10' : datum.value == 100 ? '100' : ''", "title": "Pore-throat radius (microns)", "titleFontSize": 22, "titlePadding": 5, "labelFontSize": 20, "labelPadding": 10, "grid": true, "gridColor": "#b4b4b4", "gridWidth": 1}},
      "y": {"field": "v", "type": "quantitative", "scale": {"domain": [0, 1], "nice": false},
            "axis": {"values": [0, 0.2, 0.4, 0.6, 0.8, 1], "labelExpr": "datum.value == 0 ? '0' : format(datum.value, '.1f')", "title": "Normalized pore volume", "titleFontSize": 23, "titlePadding": 5, "labelFontSize": 20, "labelPadding": 9, "grid": true, "gridColor": "#a3a3a3", "gridWidth": 2}},
      "detail": {"field": "c"}
     }},
    {"data": {"values": [{}]}, "mark": {"type": "rule", "color": "#e31e26", "strokeWidth": 8, "strokeDash": [17, 6]},
     "encoding": {"x": {"datum": 0.5, "type": "quantitative"}, "y": {"datum": 1, "type": "quantitative"}, "y2": {"datum": 0}}},
    {"data": {"values": [{}]}, "mark": {"type": "text", "text": "C", "fontSize": 57, "align": "left", "baseline": "alphabetic", "color": "#231f20"},
     "encoding": {"x": {"datum": 0.0001919, "type": "quantitative"}, "y": {"datum": 1.0703, "type": "quantitative"}}},
    {"data": {"values": [{}]}, "mark": {"type": "text", "text": "Micropore throats", "font": "Open Sans", "fontSize": 26.5, "align": "center", "baseline": "alphabetic", "color": "#231f20"},
     "encoding": {"x": {"datum": 0.02296, "type": "quantitative"}, "y": {"datum": 1.031, "type": "quantitative"}}},
    {"data": {"values": [{}]}, "mark": {"type": "text", "text": "Macropore throats", "font": "Open Sans", "fontSize": 26.5, "align": "center", "baseline": "alphabetic", "color": "#231f20"},
     "encoding": {"x": {"datum": 7.496, "type": "quantitative"}, "y": {"datum": 1.031, "type": "quantitative"}}}
   ]
  },
  {
   "width": 552, "height": 327,
   "layer": [
    {"data": {"values": [{}]}, "mark": {"type": "rect", "fill": null, "stroke": "#231f20", "strokeWidth": 5},
     "encoding": {"x": {"datum": 0.001, "type": "quantitative", "scale": {"type": "log", "domain": [0.001, 100], "nice": false}}, "x2": {"datum": 100}, "y": {"datum": 0, "type": "quantitative", "scale": {"domain": [0, 1], "nice": false}}, "y2": {"datum": 1}}},
    {"data": {"name": "D"}, "mark": {"type": "line", "color": "#231f20", "strokeWidth": 3.5, "strokeJoin": "round", "strokeCap": "round"},
     "encoding": {
      "x": {"field": "r", "type": "quantitative", "scale": {"type": "log", "domain": [0.001, 100], "nice": false},
            "axis": {"values": [0.001,0.002,0.003,0.004,0.005,0.006,0.007,0.008,0.009,0.01,0.02,0.03,0.04,0.05,0.06,0.07,0.08,0.09,0.1,0.2,0.3,0.4,0.5,0.6,0.7,0.8,0.9,1,2,3,4,5,6,7,8,9,10,20,30,40,50,60,70,80,90,100], "labelExpr": "datum.value == 0.001 ? '0.001' : datum.value == 0.01 ? '0.01' : datum.value == 0.1 ? '0.1' : datum.value == 1 ? '1.0' : datum.value == 10 ? '10' : datum.value == 100 ? '100' : ''", "title": "Pore-throat radius (microns)", "titleFontSize": 22, "titlePadding": 5, "labelFontSize": 20, "labelPadding": 10, "grid": true, "gridColor": "#b4b4b4", "gridWidth": 1}},
      "y": {"field": "v", "type": "quantitative", "scale": {"domain": [0, 1], "nice": false},
            "axis": {"values": [0, 0.2, 0.4, 0.6, 0.8, 1], "labelExpr": "datum.value == 0 ? '0' : format(datum.value, '.1f')", "title": "Normalized pore volume", "titleFontSize": 23, "titlePadding": 5, "labelFontSize": 20, "labelPadding": 9, "grid": true, "gridColor": "#a3a3a3", "gridWidth": 2}},
      "detail": {"field": "c"}
     }},
    {"data": {"values": [{}]}, "mark": {"type": "rule", "color": "#e31e26", "strokeWidth": 8, "strokeDash": [17, 6]},
     "encoding": {"x": {"datum": 0.5, "type": "quantitative"}, "y": {"datum": 1, "type": "quantitative"}, "y2": {"datum": 0}}},
    {"data": {"values": [{}]}, "mark": {"type": "text", "text": "D", "fontSize": 57, "align": "left", "baseline": "alphabetic", "color": "#231f20"},
     "encoding": {"x": {"datum": 0.0002921, "type": "quantitative"}, "y": {"datum": 1.0703, "type": "quantitative"}}},
    {"data": {"values": [{}]}, "mark": {"type": "text", "text": "Micropore throats", "font": "Open Sans", "fontSize": 26.5, "align": "center", "baseline": "alphabetic", "color": "#231f20"},
     "encoding": {"x": {"datum": 0.02284, "type": "quantitative"}, "y": {"datum": 1.031, "type": "quantitative"}}},
    {"data": {"values": [{}]}, "mark": {"type": "text", "text": "Macropore throats", "font": "Open Sans", "fontSize": 26.5, "align": "center", "baseline": "alphabetic", "color": "#231f20"},
     "encoding": {"x": {"datum": 7.375, "type": "quantitative"}, "y": {"datum": 1.031, "type": "quantitative"}}}
   ]
  }
 ],
 "spacing": 114,
 "bounds": "flush"
}
]
}
